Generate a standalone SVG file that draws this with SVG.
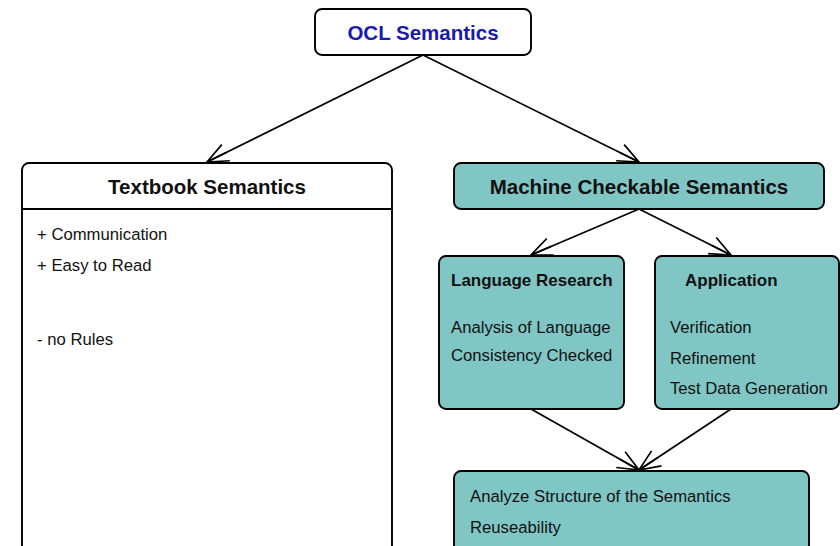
<svg xmlns="http://www.w3.org/2000/svg" width="840" height="546" viewBox="0 0 840 546">
<defs>
<marker id="arr" markerWidth="26" markerHeight="26" refX="22" refY="11" orient="auto" markerUnits="userSpaceOnUse">
<path d="M1,2 L22,11 L1,20 M0,11 L22,11" fill="none" stroke="#000" stroke-width="1.7"/>
</marker>
</defs>
<style>
.box{stroke:#000;stroke-width:1.9}
.w{fill:#fff}
.t{fill:#80c6c4}
.h{font-family:"Liberation Sans",Arial,sans-serif;font-weight:bold;fill:#111}
.b{font-family:"Liberation Sans",Arial,sans-serif;font-size:16.7px;fill:#111}
.c{stroke:#000;stroke-width:1.7;fill:none;marker-end:url(#arr)}
</style>
<g id="connectors">
<line class="c" x1="423" y1="55" x2="207" y2="162"/>
<line class="c" x1="423" y1="55" x2="639" y2="162"/>
<line class="c" x1="639" y1="209" x2="531" y2="255"/>
<line class="c" x1="639" y1="209" x2="731" y2="255"/>
<line class="c" x1="531" y1="409" x2="639" y2="470"/>
<line class="c" x1="731" y1="409" x2="639" y2="470"/>
</g>
<g id="ocl">
<rect class="box w" x="315" y="9" width="216" height="46" rx="7"/>
<text class="h" x="423" y="40" font-size="20.5" text-anchor="middle" style="fill:#1a1aae">OCL Semantics</text>
</g>
<g id="textbook">
<rect class="box w" x="22" y="163" width="370" height="400" rx="7"/>
<line x1="22" y1="209" x2="392" y2="209" stroke="#000" stroke-width="1.9"/>
<text class="h" x="207" y="194" font-size="20.5" text-anchor="middle">Textbook Semantics</text>
<text class="b" x="37" y="240">+ Communication</text>
<text class="b" x="37" y="271">+ Easy to Read</text>
<text class="b" x="37" y="345">- no Rules</text>
</g>
<g id="machine">
<rect class="box t" x="454" y="163" width="370" height="46" rx="7"/>
<text class="h" x="639" y="194" font-size="20.5" text-anchor="middle">Machine Checkable Semantics</text>
</g>
<g id="language">
<rect class="box t" x="439" y="256" width="185" height="153" rx="7"/>
<text class="h" x="451" y="286" font-size="17">Language Research</text>
<text class="b" x="451" y="333">Analysis of Language</text>
<text class="b" x="451" y="361">Consistency Checked</text>
</g>
<g id="application">
<rect class="box t" x="655" y="256" width="184" height="153" rx="7"/>
<text class="h" x="685" y="286" font-size="17">Application</text>
<text class="b" x="670" y="333">Verification</text>
<text class="b" x="670" y="364">Refinement</text>
<text class="b" x="670" y="394">Test Data Generation</text>
</g>
<g id="analyze">
<rect class="box t" x="454" y="471" width="355" height="100" rx="7"/>
<text class="b" x="470" y="502">Analyze Structure of the Semantics</text>
<text class="b" x="470" y="533">Reuseability</text>
</g>
</svg>
